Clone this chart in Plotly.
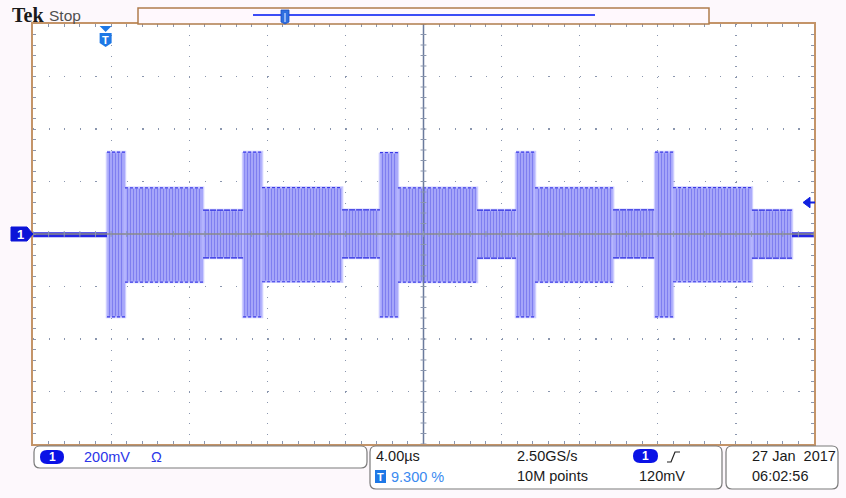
import plotly.graph_objects as go

TIME_PER_DIV_US = 4.0          # 4.00 us / div
VOLTS_PER_DIV = 0.2            # 200 mV / div
N_HDIV = 10
N_VDIV = 8

# boundaries of the burst segments (us), 15 segments
burst_edges_us = [-16.21, -15.29, -11.29, -9.24, -8.27, -4.17, -2.23, -1.31,
                  2.74, 4.74, 5.71, 9.71, 11.86, 12.78, 16.82, 18.87]
segment_kind = ["tall", "mid", "small"] * 5
seg_vmax = [0.312, 0.176, 0.091, 0.312, 0.177, 0.092, 0.310, 0.176, 0.091,
            0.312, 0.176, 0.092, 0.312, 0.177, 0.091]
seg_vmin = [-0.316, -0.183, -0.091, -0.316, -0.182, -0.091, -0.316, -0.183, -0.092,
            -0.316, -0.183, -0.091, -0.316, -0.182, -0.092]
idle_start_us = [-20.0, 18.87]
idle_end_us = [-16.21, 20.0]
idle_level_v = -0.003
trigger_level_v = 0.12
trigger_pos_us = -16.28

# text read-outs
ch_label = "1"
ch_scale = "200mV"
ch_coupling = "Ω"
timebase = "4.00µs"
trig_pos_text = "9.300 %"
sample_rate = "2.50GS/s"
record_len = "10M points"
trig_level_text = "120mV"
date_text = "27 Jan  2017"
time_text = "06:02:56"

# ---------------- page geometry helpers (layout chrome only) ----------------
W, H = 846, 498
L, R, T, B = 33, 814, 24, 444
PAGE_BG = "#fdf8fc"


def X(px):
    return (px - L) / (R - L)


def Y(py):
    return (B - py) / (B - T)


def rrect(x0, y0, x1, y1, r):
    rx, ry = r, r
    return (f"M {X(x0+rx)},{Y(y0)} L {X(x1-rx)},{Y(y0)} Q {X(x1)},{Y(y0)} {X(x1)},{Y(y0+ry)} "
            f"L {X(x1)},{Y(y1-ry)} Q {X(x1)},{Y(y1)} {X(x1-rx)},{Y(y1)} "
            f"L {X(x0+rx)},{Y(y1)} Q {X(x0)},{Y(y1)} {X(x0)},{Y(y1-ry)} "
            f"L {X(x0)},{Y(y0+ry)} Q {X(x0)},{Y(y0)} {X(x0+rx)},{Y(y0)} Z")


def poly(pts):
    s = "M " + " L ".join(f"{X(a)},{Y(b)}" for a, b in pts)
    return s + " Z"


fig = go.Figure()

FILL_FG = "#7e7ef0"
FILL_BG = "#b2b2fc"
EDGE = "#2a2ae0"

# burst segments
for i, kind in enumerate(segment_kind):
    t0, t1 = burst_edges_us[i], burst_edges_us[i + 1]
    hi, lo = seg_vmax[i], seg_vmin[i]
    fig.add_trace(go.Scatter(
        x=[t0, t1, t1, t0, t0], y=[hi, hi, lo, lo, hi],
        mode="lines", fill="toself",
        line=dict(color="rgba(185,185,255,0.7)", width=2.5),
        fillcolor=FILL_BG,
        fillpattern=dict(shape="|", size=3, solidity=0.5, fgcolor=FILL_FG,
                         bgcolor=FILL_BG, fillmode="replace"),
        hoverinfo="skip", showlegend=False))

for i, kind in enumerate(segment_kind):
    t0, t1 = burst_edges_us[i], burst_edges_us[i + 1]
    hi, lo = seg_vmax[i], seg_vmin[i]
    if kind == "small":
        ln = dict(color=EDGE, width=1.4, dash="6px,1px")
    else:
        ln = dict(color="#3a3ae6", width=1.2, dash="3px,2px")
    fig.add_trace(go.Scatter(
        x=[t0, t1, None, t0, t1], y=[hi, hi, None, lo, lo],
        mode="lines", line=ln, hoverinfo="skip", showlegend=False))

# idle baseline
for s, e in zip(idle_start_us, idle_end_us):
    fig.add_trace(go.Scatter(x=[s, e], y=[idle_level_v, idle_level_v], mode="lines",
                             line=dict(color="#2626e4", width=5),
                             hoverinfo="skip", showlegend=False))

shapes = []
GRIDC = "#8a96ae"
# centre cross
shapes.append(dict(type="line", xref="x", yref="paper", x0=0, x1=0, y0=0, y1=1,
                   line=dict(color="#6a7a9c", width=1.5), layer="above"))
shapes.append(dict(type="line", xref="paper", yref="y", x0=0, x1=1, y0=0, y1=0,
                   line=dict(color="#8a8a8a", width=1.5), layer="above"))
# centre tick marks
xr = TIME_PER_DIV_US * N_HDIV / 2
yr = VOLTS_PER_DIV * N_VDIV / 2
for k in range(-N_HDIV * 5 // 2, N_HDIV * 5 // 2 + 1):
    xv = k * TIME_PER_DIV_US / 5
    shapes.append(dict(type="line", xref="x", yref="y", x0=xv, x1=xv, y0=-0.011, y1=0.011,
                       line=dict(color=GRIDC, width=1), layer="above"))
for k in range(-N_VDIV * 5 // 2, N_VDIV * 5 // 2 + 1):
    yv = k * VOLTS_PER_DIV / 5
    shapes.append(dict(type="line", xref="x", yref="y", x0=-0.15, x1=0.15, y0=yv, y1=yv,
                       line=dict(color=GRIDC, width=1), layer="above"))

# top record-view box
shapes.append(dict(type="rect", xref="paper", yref="paper", x0=X(138), x1=X(709), y0=Y(24), y1=Y(8),
                   line=dict(color="#b07c4c", width=1.5), fillcolor="#fff8fd"))
shapes.append(dict(type="line", xref="paper", yref="paper", x0=X(253), x1=X(595), y0=Y(15), y1=Y(15),
                   line=dict(color="#3c4cf6", width=2)))
shapes.append(dict(type="path", xref="paper", yref="paper",
                   path=poly([(281, 10), (289, 10), (289, 22), (285, 24), (281, 22)]),
                   fillcolor="#2f6fe0", line=dict(color="#1a4fc0", width=0.8)))
shapes.append(dict(type="line", xref="paper", yref="paper", x0=X(285), x1=X(285), y0=Y(13), y1=Y(22),
                   line=dict(color="#cfe0ff", width=1.2)))

# trigger position marker
tpx = L + (trigger_pos_us + xr) / (2 * xr) * (R - L)
shapes.append(dict(type="path", xref="paper", yref="paper",
                   path=poly([(tpx - 6, 26), (tpx + 6, 26), (tpx, 32)]),
                   fillcolor="#1e78e6", line=dict(width=0)))
shapes.append(dict(type="path", xref="paper", yref="paper",
                   path=poly([(tpx - 6, 33), (tpx + 6, 33), (tpx + 6, 43), (tpx, 47), (tpx - 6, 43)]),
                   fillcolor="#1e78e6", line=dict(width=0)))

# channel 1 ground marker
shapes.append(dict(type="path", xref="paper", yref="paper",
                   path=poly([(11, 227), (27, 227), (33, 234), (27, 241), (11, 241)]),
                   fillcolor="#0c14d8", line=dict(color="#0c14d8", width=1)))

# trigger level arrow (right edge)
shapes.append(dict(type="path", xref="paper", yref="y",
                   path=f"M {X(803)},{trigger_level_v} L {X(810)},{trigger_level_v + 0.02} "
                        f"L {X(810)},{trigger_level_v - 0.02} Z",
                   fillcolor="#1020e0", line=dict(color="#1020e0", width=1)))
shapes.append(dict(type="line", xref="paper", yref="y", x0=X(808), x1=X(815),
                   y0=trigger_level_v, y1=trigger_level_v, line=dict(color="#1020e0", width=2)))

# bottom read-out boxes
for (a, b, c, d) in [(34, 446, 367, 468), (370, 446, 722, 489), (726, 446, 838, 489)]:
    shapes.append(dict(type="path", xref="paper", yref="paper", path=rrect(a, b, c, d, 6),
                       fillcolor="#ffffff", line=dict(color="#7a7a7a", width=1.2)))
for (a, b, c, d) in [(40, 450, 64, 464), (633, 449, 658, 463)]:
    shapes.append(dict(type="path", xref="paper", yref="paper", path=rrect(a, b, c, d, 7),
                       fillcolor="#0a12e6", line=dict(width=0)))
# T icon in read-out
shapes.append(dict(type="rect", xref="paper", yref="paper", x0=X(375), x1=X(386), y0=Y(483), y1=Y(470),
                   fillcolor="#1e78e6", line=dict(width=0)))
# rising slope icon
shapes.append(dict(type="path", xref="paper", yref="paper",
                   path=f"M {X(667)},{Y(462)} L {X(671)},{Y(462)} L {X(675)},{Y(452)} L {X(680)},{Y(452)}",
                   line=dict(color="#222222", width=1.2)))

ann = []


def txt(px, py, s, size=14.5, color="#1a1a1a", family="Liberation Sans", anchor="left", bold=False):
    ann.append(dict(xref="paper", yref="paper", x=X(px), y=Y(py), text=f"<b>{s}</b>" if bold else s,
                    showarrow=False, xanchor=anchor, yanchor="middle",
                    font=dict(size=size, color=color, family=family)))


txt(10, 15, "Tek", size=20, color="#1a1a1a", family="Liberation Serif", bold=True)
txt(47, 15, "Stop", size=15.5, color="#505050")
txt(tpx, 40, "T", size=11, color="#ffffff", family="Liberation Sans", anchor="center", bold=True)
txt(20, 234, ch_label, size=13, color="#ffffff", anchor="center", bold=True)
txt(52, 457, ch_label, size=12, color="#ffffff", anchor="center", bold=True)
txt(82, 457, ch_scale, color="#2a35e8")
txt(149, 457, ch_coupling, size=14.5, color="#2a35e8")
txt(374, 456, timebase)
txt(380.5, 477, "T", size=11, color="#ffffff", anchor="center", bold=True)
txt(389, 477, trig_pos_text, color="#3a8af0")
txt(515, 456, sample_rate)
txt(515, 476, record_len)
txt(645.5, 456, ch_label, size=12, color="#ffffff", anchor="center", bold=True)
txt(637, 476, trig_level_text)
txt(750, 456, date_text)
txt(750, 476, time_text)

fig.update_layout(
    width=W, height=H,
    margin=dict(l=L, r=W - R, t=T, b=H - B, pad=0),
    paper_bgcolor=PAGE_BG, plot_bgcolor="#ffffff",
    showlegend=False, shapes=shapes, annotations=ann,
    xaxis=dict(range=[-xr, xr], dtick=TIME_PER_DIV_US, tick0=0, showticklabels=False,
               showgrid=True, gridcolor=GRIDC, gridwidth=1.2, griddash="1.2px,9.3px",
               zeroline=False, showline=True, mirror="ticks", linecolor="#c49468", linewidth=2,
               ticks="inside", ticklen=3, tickcolor=GRIDC,
               minor=dict(dtick=TIME_PER_DIV_US / 5, ticks="inside", ticklen=3, tickcolor=GRIDC,
                          showgrid=False),
               fixedrange=True),
    yaxis=dict(range=[-yr, yr], dtick=VOLTS_PER_DIV, tick0=0, showticklabels=False,
               showgrid=True, gridcolor=GRIDC, gridwidth=1.2, griddash="1.2px,14.42px",
               zeroline=False, showline=True, mirror="ticks", linecolor="#c49468", linewidth=2,
               ticks="inside", ticklen=3, tickcolor=GRIDC,
               minor=dict(dtick=VOLTS_PER_DIV / 5, ticks="inside", ticklen=3, tickcolor=GRIDC,
                          showgrid=False),
               fixedrange=True),
)

fig.write_html("out.html", config={"displayModeBar": False, "staticPlot": True},
               post_script=f"document.body.style.margin='0';document.body.style.background='{PAGE_BG}';")
